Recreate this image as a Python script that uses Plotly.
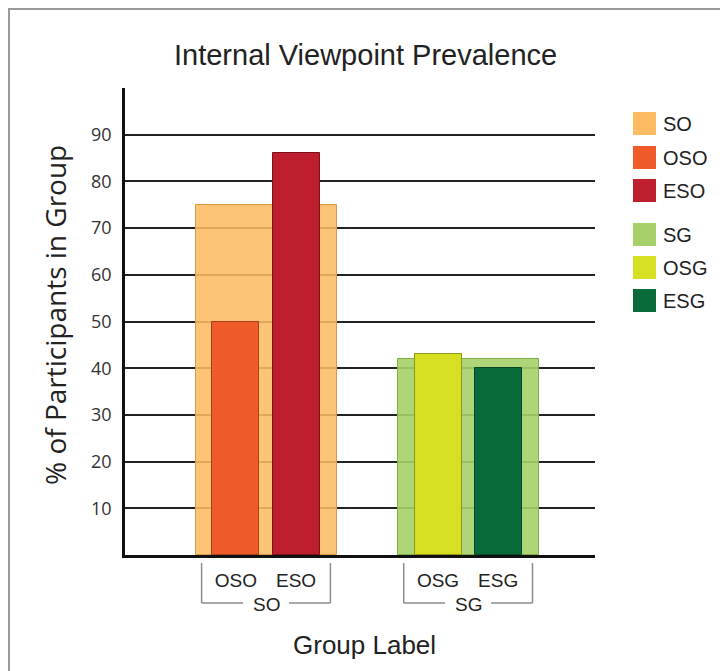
import plotly.graph_objects as go

# --- data -------------------------------------------------------------
groups = ["SO", "SG"]
group_values = [75, 42]
group_colors = ["rgba(253,187,99,0.88)", "rgba(166,208,106,0.9)"]
group_lines = ["#d99a45", "#7fae48"]

sub_labels = ["OSO", "ESO", "OSG", "ESG"]
sub_values = [50, 86, 43, 40]
sub_colors = ["#F15A29", "#BE1E2D", "#D7DF23", "#0A6B3A"]
sub_lines = ["#a8401c", "#7a1018", "#8f9515", "#064526"]

y_ticks = [10, 20, 30, 40, 50, 60, 70, 80, 90]

legend_labels = ["SO", "OSO", "ESO", "SG", "OSG", "ESG"]
legend_colors = ["#FDBB63", "#F15A29", "#BE1E2D", "#A6D06A", "#D7DF23", "#0A6B3A"]

# --- layout positions (x axis in abstract units) ----------------------
group_x = [3.0, 7.3]
group_width = 3.0
sub_offset = 0.64
sub_width = 1.0
sub_x = []
for gx in group_x:
    sub_x += [gx - sub_offset, gx + sub_offset]

FONT = "Liberation Sans, Arial, sans-serif"
FONT2 = "Open Sans, sans-serif"

fig = go.Figure()
fig.add_trace(go.Bar(
    x=group_x, y=group_values, width=[group_width] * 2,
    marker=dict(color=group_colors, line=dict(color=group_lines, width=1)),
    showlegend=False, hoverinfo="skip"))
fig.add_trace(go.Bar(
    x=sub_x, y=sub_values, width=[sub_width] * 4,
    marker=dict(color=sub_colors, line=dict(color=sub_lines, width=1)),
    showlegend=False, hoverinfo="skip"))

W, H = 720, 671
L, R, T, B = 125, 595, 88, 555   # plot area in pixels


def px_x(p):
    return (p - L) / (R - L)


def px_y(p):
    return (B - p) / (B - T)


shapes = []
annotations = []

# outer frame
shapes.append(dict(type="rect", xref="paper", yref="paper",
                   x0=px_x(9), x1=px_x(760), y0=px_y(9), y1=px_y(720),
                   line=dict(color="#9a9a9a", width=2), fillcolor="rgba(0,0,0,0)",
                   layer="below"))

# group brackets under the sub-labels
half = 1.37
gap = 0.49
yb0, yb1 = px_y(563), px_y(603)
for gx, name in zip(group_x, groups):
    lc = dict(color="#8c8c8c", width=1.5)
    shapes.append(dict(type="line", xref="x", yref="paper", x0=gx - half, x1=gx - half,
                       y0=yb0, y1=yb1, line=lc))
    shapes.append(dict(type="line", xref="x", yref="paper", x0=gx + half, x1=gx + half,
                       y0=yb0, y1=yb1, line=lc))
    shapes.append(dict(type="line", xref="x", yref="paper", x0=gx - half, x1=gx - gap,
                       y0=yb1, y1=yb1, line=lc))
    shapes.append(dict(type="line", xref="x", yref="paper", x0=gx + gap, x1=gx + half,
                       y0=yb1, y1=yb1, line=lc))
    annotations.append(dict(text=name, xref="x", yref="paper", x=gx, y=px_y(604),
                            xanchor="center", yanchor="middle", showarrow=False,
                            font=dict(family=FONT, size=19, color="#222")))

# legend
legend_tops = [112, 146, 179, 223, 256, 289]
for lab, col, top in zip(legend_labels, legend_colors, legend_tops):
    shapes.append(dict(type="rect", xref="paper", yref="paper",
                       x0=px_x(633), x1=px_x(656), y0=px_y(top), y1=px_y(top + 23),
                       fillcolor=col, line=dict(width=0)))
    annotations.append(dict(text=lab, xref="paper", yref="paper",
                            x=px_x(661), y=px_y(top + 11.5), xanchor="left",
                            yanchor="middle", showarrow=False,
                            font=dict(family=FONT, size=20, color="#222")))

# titles
annotations.append(dict(text="Internal Viewpoint Prevalence", xref="paper", yref="paper",
                        x=px_x(365), y=px_y(55), xanchor="center", yanchor="middle",
                        showarrow=False, font=dict(family=FONT, size=29, color="#222")))
annotations.append(dict(text="Group Label", xref="paper", yref="paper",
                        x=px_x(364), y=px_y(645), xanchor="center", yanchor="middle",
                        showarrow=False, font=dict(family=FONT, size=26, color="#222")))
annotations.append(dict(text="% of Participants in Group", xref="paper", yref="paper",
                        x=px_x(55), y=px_y(315), xanchor="center", yanchor="middle",
                        textangle=-90, showarrow=False,
                        font=dict(family=FONT2, size=28, color="#222")))

fig.update_layout(
    width=W, height=H,
    margin=dict(l=L, r=W - R, t=T, b=H - B, pad=0),
    paper_bgcolor="white", plot_bgcolor="white",
    barmode="overlay", bargap=0,
    shapes=shapes, annotations=annotations,
    xaxis=dict(range=[0, 10], tickvals=sub_x, ticktext=sub_labels,
               showgrid=False, zeroline=False, showline=True, linecolor="#111",
               linewidth=3, ticks="", ticklabelstandoff=6,
               tickfont=dict(family=FONT, size=19, color="#222")),
    yaxis=dict(range=[0, 100], tickvals=y_ticks, showgrid=True, gridcolor="#222",
               gridwidth=1.5, zeroline=False, showline=True, linecolor="#111",
               linewidth=2.5, ticks="", ticklabelstandoff=7,
               tickfont=dict(family=FONT2, size=18, color="#333")),
)

fig.write_html("out.html")
